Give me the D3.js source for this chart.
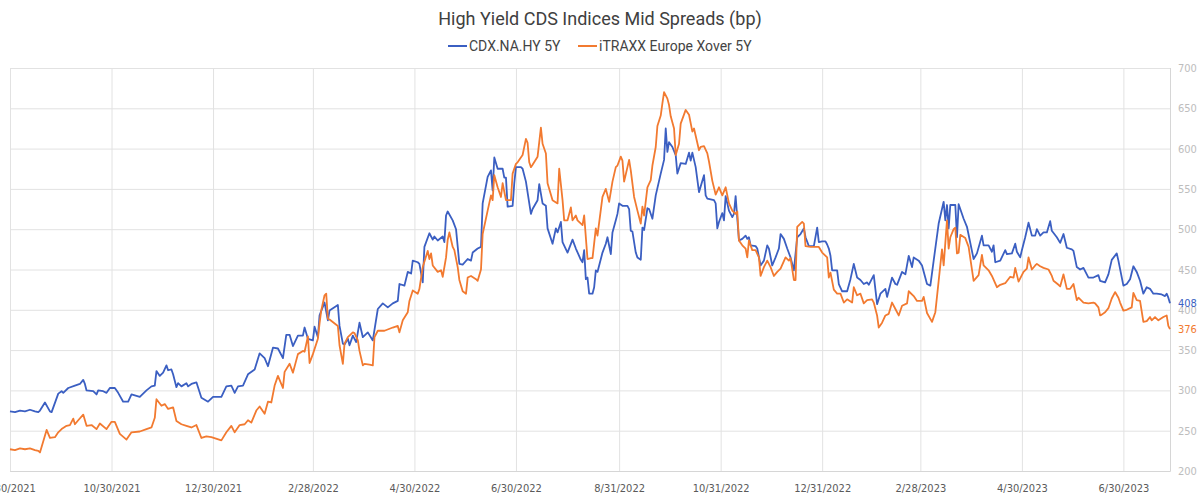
<!DOCTYPE html>
<html>
<head>
<meta charset="utf-8">
<script src="https://cdn.jsdelivr.net/npm/d3@7"></script>
<style>
  html, body { margin: 0; padding: 0; background: #fff; }
  svg { display: block; }
</style>
</head>
<body>
<svg id="chart" width="1200" height="494"></svg>
<script>
const title = "High Yield CDS Indices Mid Spreads (bp)";
const seriesNames = ["CDX.NA.HY 5Y", "iTRAXX Europe Xover 5Y"];
const seriesColors = ["#3b5fc2", "#f27a30"];
const xTickLabels = ["8/30/2021","10/30/2021","12/30/2021","2/28/2022","4/30/2022","6/30/2022","8/31/2022","10/31/2022","12/31/2022","2/28/2023","4/30/2023","6/30/2023"];
const yTicks = [200, 250, 300, 350, 400, 450, 500, 550, 600, 650, 700];
const xDomain = ["2021-08-30", "2023-07-28"];

const cdx = [["2021-08-30",274],["2021-09-02",273],["2021-09-05",275],["2021-09-08",274],["2021-09-11",276],["2021-09-14",274],["2021-09-16",273],["2021-09-17",275],["2021-09-20",285],["2021-09-23",274],["2021-09-24",273],["2021-09-28",296],["2021-09-30",299],["2021-10-01",297],["2021-10-04",303],["2021-10-08",306],["2021-10-11",308],["2021-10-13",313],["2021-10-14",308],["2021-10-15",300],["2021-10-19",299],["2021-10-21",295],["2021-10-22",300],["2021-10-25",299],["2021-10-27",297],["2021-10-29",303],["2021-11-01",303],["2021-11-03",297],["2021-11-06",286],["2021-11-09",286],["2021-11-11",295],["2021-11-16",292],["2021-11-20",300],["2021-11-23",305],["2021-11-25",306],["2021-11-26",324],["2021-11-28",318],["2021-11-30",322],["2021-12-02",331],["2021-12-03",325],["2021-12-05",326],["2021-12-06",320],["2021-12-08",304],["2021-12-09",309],["2021-12-11",305],["2021-12-14",309],["2021-12-15",305],["2021-12-17",308],["2021-12-20",310],["2021-12-23",291],["2021-12-27",286],["2021-12-30",292],["2022-01-04",292],["2022-01-07",305],["2022-01-10",306],["2022-01-12",297],["2022-01-14",305],["2022-01-17",306],["2022-01-20",320],["2022-01-24",326],["2022-01-27",346],["2022-01-30",340],["2022-02-01",330],["2022-02-04",353],["2022-02-07",352],["2022-02-10",340],["2022-02-12",369],["2022-02-14",369],["2022-02-16",355],["2022-02-19",368],["2022-02-22",368],["2022-02-23",378],["2022-02-25",364],["2022-02-28",362],["2022-03-01",379],["2022-03-03",366],["2022-03-04",393],["2022-03-07",409],["2022-03-09",387],["2022-03-10",399],["2022-03-15",406],["2022-03-16",380],["2022-03-18",358],["2022-03-19",357],["2022-03-21",364],["2022-03-22",356],["2022-03-24",368],["2022-03-26",360],["2022-03-28",384],["2022-03-30",366],["2022-04-02",372],["2022-04-05",362],["2022-04-08",401],["2022-04-11",408],["2022-04-14",403],["2022-04-17",408],["2022-04-20",411],["2022-04-21",432],["2022-04-24",430],["2022-04-26",447],["2022-04-28",445],["2022-04-29",461],["2022-05-02",459],["2022-05-03",457],["2022-05-05",434],["2022-05-06",478],["2022-05-09",495],["2022-05-11",487],["2022-05-12",491],["2022-05-14",486],["2022-05-17",491],["2022-05-18",484],["2022-05-19",517],["2022-05-20",522],["2022-05-23",511],["2022-05-25",500],["2022-05-27",457],["2022-05-29",456],["2022-06-01",463],["2022-06-03",461],["2022-06-04",471],["2022-06-07",476],["2022-06-09",478],["2022-06-10",532],["2022-06-13",565],["2022-06-15",573],["2022-06-16",548],["2022-06-17",589],["2022-06-19",575],["2022-06-22",575],["2022-06-23",564],["2022-06-24",564],["2022-06-25",528],["2022-06-28",529],["2022-06-29",557],["2022-06-30",577],["2022-07-03",577],["2022-07-04",575],["2022-07-06",559],["2022-07-09",519],["2022-07-10",525],["2022-07-13",536],["2022-07-14",556],["2022-07-16",532],["2022-07-18",529],["2022-07-19",501],["2022-07-22",482],["2022-07-24",501],["2022-07-25",496],["2022-07-27",509],["2022-07-28",484],["2022-07-31",471],["2022-08-03",487],["2022-08-05",476],["2022-08-08",462],["2022-08-09",459],["2022-08-10",474],["2022-08-11",438],["2022-08-12",440],["2022-08-13",420],["2022-08-15",420],["2022-08-16",428],["2022-08-17",449],["2022-08-18",447],["2022-08-21",471],["2022-08-23",482],["2022-08-24",490],["2022-08-26",469],["2022-08-27",496],["2022-08-29",511],["2022-08-30",519],["2022-08-31",532],["2022-09-02",529],["2022-09-05",529],["2022-09-06",525],["2022-09-07",498],["2022-09-08",497],["2022-09-10",471],["2022-09-11",465],["2022-09-13",462],["2022-09-14",502],["2022-09-15",499],["2022-09-17",526],["2022-09-18",525],["2022-09-20",513],["2022-09-22",542],["2022-09-25",569],["2022-09-27",586],["2022-09-28",625],["2022-09-29",596],["2022-09-30",608],["2022-10-02",602],["2022-10-04",592],["2022-10-05",569],["2022-10-07",582],["2022-10-10",581],["2022-10-12",595],["2022-10-13",585],["2022-10-14",595],["2022-10-16",577],["2022-10-18",546],["2022-10-21",567],["2022-10-22",542],["2022-10-23",538],["2022-10-27",536],["2022-10-28",532],["2022-10-29",501],["2022-10-30",509],["2022-11-01",520],["2022-11-02",511],["2022-11-03",541],["2022-11-05",523],["2022-11-07",515],["2022-11-08",519],["2022-11-09",541],["2022-11-11",486],["2022-11-13",488],["2022-11-15",492],["2022-11-16",488],["2022-11-17",490],["2022-11-18",480],["2022-11-21",479],["2022-11-22",476],["2022-11-24",455],["2022-11-26",461],["2022-11-28",480],["2022-11-29",476],["2022-12-01",455],["2022-12-03",465],["2022-12-05",476],["2022-12-06",494],["2022-12-08",488],["2022-12-10",476],["2022-12-12",465],["2022-12-14",449],["2022-12-16",490],["2022-12-18",494],["2022-12-20",501],["2022-12-21",490],["2022-12-23",479],["2022-12-26",479],["2022-12-28",502],["2022-12-29",484],["2022-12-31",485],["2023-01-02",485],["2023-01-03",481],["2023-01-04",476],["2023-01-05",467],["2023-01-06",449],["2023-01-09",449],["2023-01-10",432],["2023-01-12",423],["2023-01-15",423],["2023-01-17",438],["2023-01-19",457],["2023-01-21",440],["2023-01-23",437],["2023-01-25",432],["2023-01-27",434],["2023-01-28",431],["2023-01-31",443],["2023-02-02",407],["2023-02-04",420],["2023-02-07",426],["2023-02-08",416],["2023-02-11",440],["2023-02-13",432],["2023-02-14",431],["2023-02-17",447],["2023-02-19",444],["2023-02-21",467],["2023-02-23",453],["2023-02-24",465],["2023-02-27",461],["2023-03-01",455],["2023-03-04",432],["2023-03-06",430],["2023-03-08",461],["2023-03-11",507],["2023-03-14",534],["2023-03-15",511],["2023-03-16",530],["2023-03-17",501],["2023-03-18",530],["2023-03-21",530],["2023-03-22",490],["2023-03-23",531],["2023-03-26",513],["2023-03-28",503],["2023-04-01",463],["2023-04-03",470],["2023-04-06",492],["2023-04-07",480],["2023-04-10",480],["2023-04-12",472],["2023-04-13",480],["2023-04-14",459],["2023-04-17",461],["2023-04-20",474],["2023-04-21",469],["2023-04-24",470],["2023-04-26",482],["2023-04-27",472],["2023-04-29",465],["2023-04-30",474],["2023-05-02",490],["2023-05-04",508],["2023-05-06",492],["2023-05-08",492],["2023-05-09",500],["2023-05-11",492],["2023-05-13",496],["2023-05-15",496],["2023-05-17",510],["2023-05-18",498],["2023-05-21",490],["2023-05-23",483],["2023-05-25",494],["2023-05-27",477],["2023-05-30",475],["2023-05-31",473],["2023-06-02",453],["2023-06-04",450],["2023-06-06",452],["2023-06-07",448],["2023-06-09",440],["2023-06-12",440],["2023-06-15",443],["2023-06-16",436],["2023-06-19",434],["2023-06-21",444],["2023-06-23",462],["2023-06-26",470],["2023-06-27",461],["2023-06-30",430],["2023-07-02",432],["2023-07-04",438],["2023-07-06",454],["2023-07-08",447],["2023-07-10",436],["2023-07-12",420],["2023-07-14",428],["2023-07-16",426],["2023-07-18",420],["2023-07-20",420],["2023-07-23",419],["2023-07-25",417],["2023-07-26",420],["2023-07-27",415],["2023-07-28",408]];

const xover = [["2021-08-30",227],["2021-09-02",226],["2021-09-05",228],["2021-09-08",227],["2021-09-11",228],["2021-09-14",226],["2021-09-16",225],["2021-09-17",223],["2021-09-19",237],["2021-09-21",251],["2021-09-23",241],["2021-09-26",242],["2021-09-28",248],["2021-09-30",252],["2021-10-03",256],["2021-10-05",257],["2021-10-07",265],["2021-10-08",258],["2021-10-10",263],["2021-10-13",270],["2021-10-15",256],["2021-10-18",257],["2021-10-21",252],["2021-10-23",259],["2021-10-27",252],["2021-10-30",261],["2021-11-01",261],["2021-11-04",246],["2021-11-08",239],["2021-11-11",248],["2021-11-16",249],["2021-11-20",252],["2021-11-23",254],["2021-11-25",266],["2021-11-26",289],["2021-11-29",281],["2021-12-01",283],["2021-12-03",277],["2021-12-06",279],["2021-12-08",262],["2021-12-11",258],["2021-12-14",256],["2021-12-17",254],["2021-12-20",257],["2021-12-23",241],["2021-12-26",243],["2021-12-29",242],["2022-01-04",238],["2022-01-07",248],["2022-01-10",256],["2022-01-12",248],["2022-01-15",257],["2022-01-18",258],["2022-01-20",263],["2022-01-22",260],["2022-01-25",275],["2022-01-27",280],["2022-01-30",271],["2022-02-01",286],["2022-02-03",285],["2022-02-05",306],["2022-02-07",318],["2022-02-10",303],["2022-02-11",323],["2022-02-14",333],["2022-02-16",322],["2022-02-19",345],["2022-02-22",349],["2022-02-23",348],["2022-02-25",367],["2022-02-26",334],["2022-02-28",345],["2022-03-03",364],["2022-03-04",383],["2022-03-05",399],["2022-03-07",418],["2022-03-08",420],["2022-03-09",389],["2022-03-10",388],["2022-03-15",380],["2022-03-16",356],["2022-03-18",333],["2022-03-19",358],["2022-03-21",366],["2022-03-24",372],["2022-03-25",371],["2022-03-27",362],["2022-03-28",349],["2022-03-30",331],["2022-03-31",333],["2022-04-03",332],["2022-04-05",331],["2022-04-06",366],["2022-04-08",374],["2022-04-12",374],["2022-04-17",378],["2022-04-20",380],["2022-04-21",372],["2022-04-23",387],["2022-04-26",397],["2022-04-27",411],["2022-04-29",424],["2022-05-02",420],["2022-05-03",426],["2022-05-05",453],["2022-05-08",473],["2022-05-09",463],["2022-05-10",470],["2022-05-11",455],["2022-05-14",447],["2022-05-16",449],["2022-05-17",441],["2022-05-19",465],["2022-05-20",487],["2022-05-21",496],["2022-05-23",478],["2022-05-24",474],["2022-05-26",453],["2022-05-27",437],["2022-05-29",423],["2022-05-31",420],["2022-06-01",440],["2022-06-03",442],["2022-06-06",438],["2022-06-07",436],["2022-06-09",450],["2022-06-10",494],["2022-06-13",523],["2022-06-15",542],["2022-06-16",536],["2022-06-17",567],["2022-06-19",552],["2022-06-21",540],["2022-06-22",557],["2022-06-24",536],["2022-06-27",536],["2022-06-28",569],["2022-06-30",581],["2022-07-01",583],["2022-07-04",592],["2022-07-06",612],["2022-07-07",607],["2022-07-08",583],["2022-07-09",577],["2022-07-10",580],["2022-07-13",590],["2022-07-15",626],["2022-07-16",606],["2022-07-18",594],["2022-07-19",557],["2022-07-22",536],["2022-07-25",532],["2022-07-26",575],["2022-07-28",536],["2022-07-29",511],["2022-07-31",511],["2022-08-02",527],["2022-08-03",511],["2022-08-05",517],["2022-08-06",511],["2022-08-09",505],["2022-08-10",517],["2022-08-12",463],["2022-08-14",464],["2022-08-15",464],["2022-08-17",501],["2022-08-18",492],["2022-08-21",540],["2022-08-23",550],["2022-08-25",534],["2022-08-27",559],["2022-08-29",577],["2022-08-30",579],["2022-09-01",590],["2022-09-02",585],["2022-09-03",559],["2022-09-06",586],["2022-09-07",573],["2022-09-09",540],["2022-09-11",523],["2022-09-13",507],["2022-09-14",528],["2022-09-15",517],["2022-09-17",552],["2022-09-19",561],["2022-09-20",579],["2022-09-22",602],["2022-09-23",628],["2022-09-25",641],["2022-09-26",656],["2022-09-27",670],["2022-09-29",662],["2022-09-30",654],["2022-10-01",640],["2022-10-03",625],["2022-10-04",592],["2022-10-06",606],["2022-10-07",631],["2022-10-10",648],["2022-10-12",642],["2022-10-14",621],["2022-10-15",625],["2022-10-18",598],["2022-10-19",602],["2022-10-21",603],["2022-10-23",594],["2022-10-24",584],["2022-10-26",560],["2022-10-28",543],["2022-10-30",552],["2022-11-01",542],["2022-11-03",552],["2022-11-05",532],["2022-11-07",523],["2022-11-09",519],["2022-11-10",522],["2022-11-11",486],["2022-11-13",480],["2022-11-15",476],["2022-11-16",465],["2022-11-17",486],["2022-11-19",474],["2022-11-21",474],["2022-11-23",465],["2022-11-24",442],["2022-11-26",453],["2022-11-28",461],["2022-11-30",453],["2022-12-02",442],["2022-12-04",447],["2022-12-06",451],["2022-12-09",465],["2022-12-11",461],["2022-12-12",464],["2022-12-14",437],["2022-12-15",437],["2022-12-16",503],["2022-12-19",509],["2022-12-20",507],["2022-12-21",479],["2022-12-24",478],["2022-12-29",478],["2022-12-31",471],["2023-01-03",465],["2023-01-04",440],["2023-01-05",446],["2023-01-07",425],["2023-01-09",420],["2023-01-11",420],["2023-01-13",409],["2023-01-15",413],["2023-01-18",409],["2023-01-19",428],["2023-01-21",418],["2023-01-23",420],["2023-01-25",408],["2023-01-27",412],["2023-01-30",413],["2023-01-31",409],["2023-02-02",393],["2023-02-03",378],["2023-02-05",384],["2023-02-07",393],["2023-02-09",395],["2023-02-11",409],["2023-02-13",401],["2023-02-15",393],["2023-02-17",405],["2023-02-20",408],["2023-02-21",423],["2023-02-24",417],["2023-02-26",411],["2023-03-01",411],["2023-03-02",416],["2023-03-04",396],["2023-03-07",385],["2023-03-09",397],["2023-03-11",436],["2023-03-13",475],["2023-03-14",455],["2023-03-16",511],["2023-03-17",476],["2023-03-18",490],["2023-03-20",500],["2023-03-21",502],["2023-03-22",470],["2023-03-23",471],["2023-03-24",493],["2023-03-27",489],["2023-03-29",478],["2023-04-01",436],["2023-04-04",443],["2023-04-06",468],["2023-04-07",455],["2023-04-10",449],["2023-04-12",442],["2023-04-15",428],["2023-04-17",431],["2023-04-20",433],["2023-04-23",441],["2023-04-25",440],["2023-04-26",452],["2023-04-28",435],["2023-05-01",447],["2023-05-03",451],["2023-05-04",465],["2023-05-06",450],["2023-05-08",455],["2023-05-09",457],["2023-05-11",454],["2023-05-13",452],["2023-05-16",450],["2023-05-18",442],["2023-05-19",436],["2023-05-22",431],["2023-05-23",429],["2023-05-25",444],["2023-05-27",426],["2023-05-29",426],["2023-05-31",432],["2023-06-02",412],["2023-06-03",415],["2023-06-06",409],["2023-06-09",408],["2023-06-12",409],["2023-06-13",408],["2023-06-15",403],["2023-06-16",393],["2023-06-17",394],["2023-06-19",397],["2023-06-21",402],["2023-06-23",414],["2023-06-25",422],["2023-06-27",415],["2023-06-28",409],["2023-06-30",399],["2023-07-02",400],["2023-07-05",403],["2023-07-06",421],["2023-07-08",412],["2023-07-10",411],["2023-07-12",385],["2023-07-14",386],["2023-07-16",391],["2023-07-17",387],["2023-07-19",391],["2023-07-21",387],["2023-07-24",391],["2023-07-26",393],["2023-07-27",380],["2023-07-28",376]];

const parse = d3.timeParse("%Y-%m-%d");
const parseTick = d3.timeParse("%m/%d/%Y");
const fmtTick = d => `${d.getMonth() + 1}/${d.getDate()}/${d.getFullYear()}`;

const margin = { left: 10, right: 30, top: 68, bottom: 23 };
const W = 1200, H = 494;
const svg = d3.select("#chart");

const x = d3.scaleTime().domain(xDomain.map(parse)).range([margin.left, W - margin.right]);
const y = d3.scaleLinear().domain([200, 700]).range([H - margin.bottom, margin.top]);

const axisFont = "'Liberation Sans Narrow','DejaVu Sans Condensed','Roboto',sans-serif";

// horizontal grid + right axis labels
const yAxis = d3.axisRight(y).tickValues(yTicks).tickSize(-(W - margin.right - margin.left)).tickFormat(d3.format("d"));
const gy = svg.append("g").attr("transform", `translate(${W - margin.right},0)`).call(yAxis);
gy.select(".domain").remove();
gy.selectAll(".tick line").attr("stroke", "#e2e2e2").attr("stroke-width", 1);
gy.selectAll(".tick text").attr("x", 8).attr("fill", "#bdbdbd").style("font-family", axisFont).style("font-size", "11px");

// vertical grid + bottom axis labels
const xTickDates = xTickLabels.map(parseTick);
const xAxis = d3.axisBottom(x).tickValues(xTickDates).tickSize(-(H - margin.bottom - margin.top)).tickFormat(fmtTick);
const gx = svg.append("g").attr("transform", `translate(0,${H - margin.bottom})`).call(xAxis);
gx.select(".domain").attr("stroke", "#d6d6d6");
gx.selectAll(".tick line").attr("stroke", "#e2e2e2").attr("stroke-width", 1);
gx.selectAll(".tick text").attr("y", 13).attr("fill", "#5a5a5a").style("font-family", axisFont).style("font-size", "11px");

// lines
const line = d3.line().x(d => x(parse(d[0]))).y(d => y(d[1]));
[cdx, xover].forEach((s, i) => {
  svg.append("path").datum(s).attr("d", line).attr("fill", "none")
    .attr("stroke", seriesColors[i]).attr("stroke-width", 1.8).attr("stroke-linejoin", "round");
  const last = s[s.length - 1];
  svg.append("text").attr("x", x(parse(last[0])) + 8).attr("y", y(last[1])).attr("dy", "0.35em")
    .attr("fill", seriesColors[i]).style("font-family", axisFont).style("font-size", "11px").text(last[1]);
});

// title
svg.append("text").attr("x", 600).attr("y", 25).attr("text-anchor", "middle")
  .attr("fill", "#404040").style("font-family", "Roboto, sans-serif").style("font-size", "18px").text(title);

// legend
const legendX = [448, 578];
seriesNames.forEach((n, i) => {
  const g = svg.append("g").attr("transform", `translate(${legendX[i]},46)`);
  g.append("line").attr("x1", 0).attr("x2", 19).attr("y1", 0).attr("y2", 0).attr("stroke", seriesColors[i]).attr("stroke-width", 2);
  g.append("text").attr("x", 21).attr("dy", "0.35em").attr("fill", "#444")
    .style("font-family", "Roboto, sans-serif").style("font-size", "14px").text(n);
});
</script>
</body>
</html>
